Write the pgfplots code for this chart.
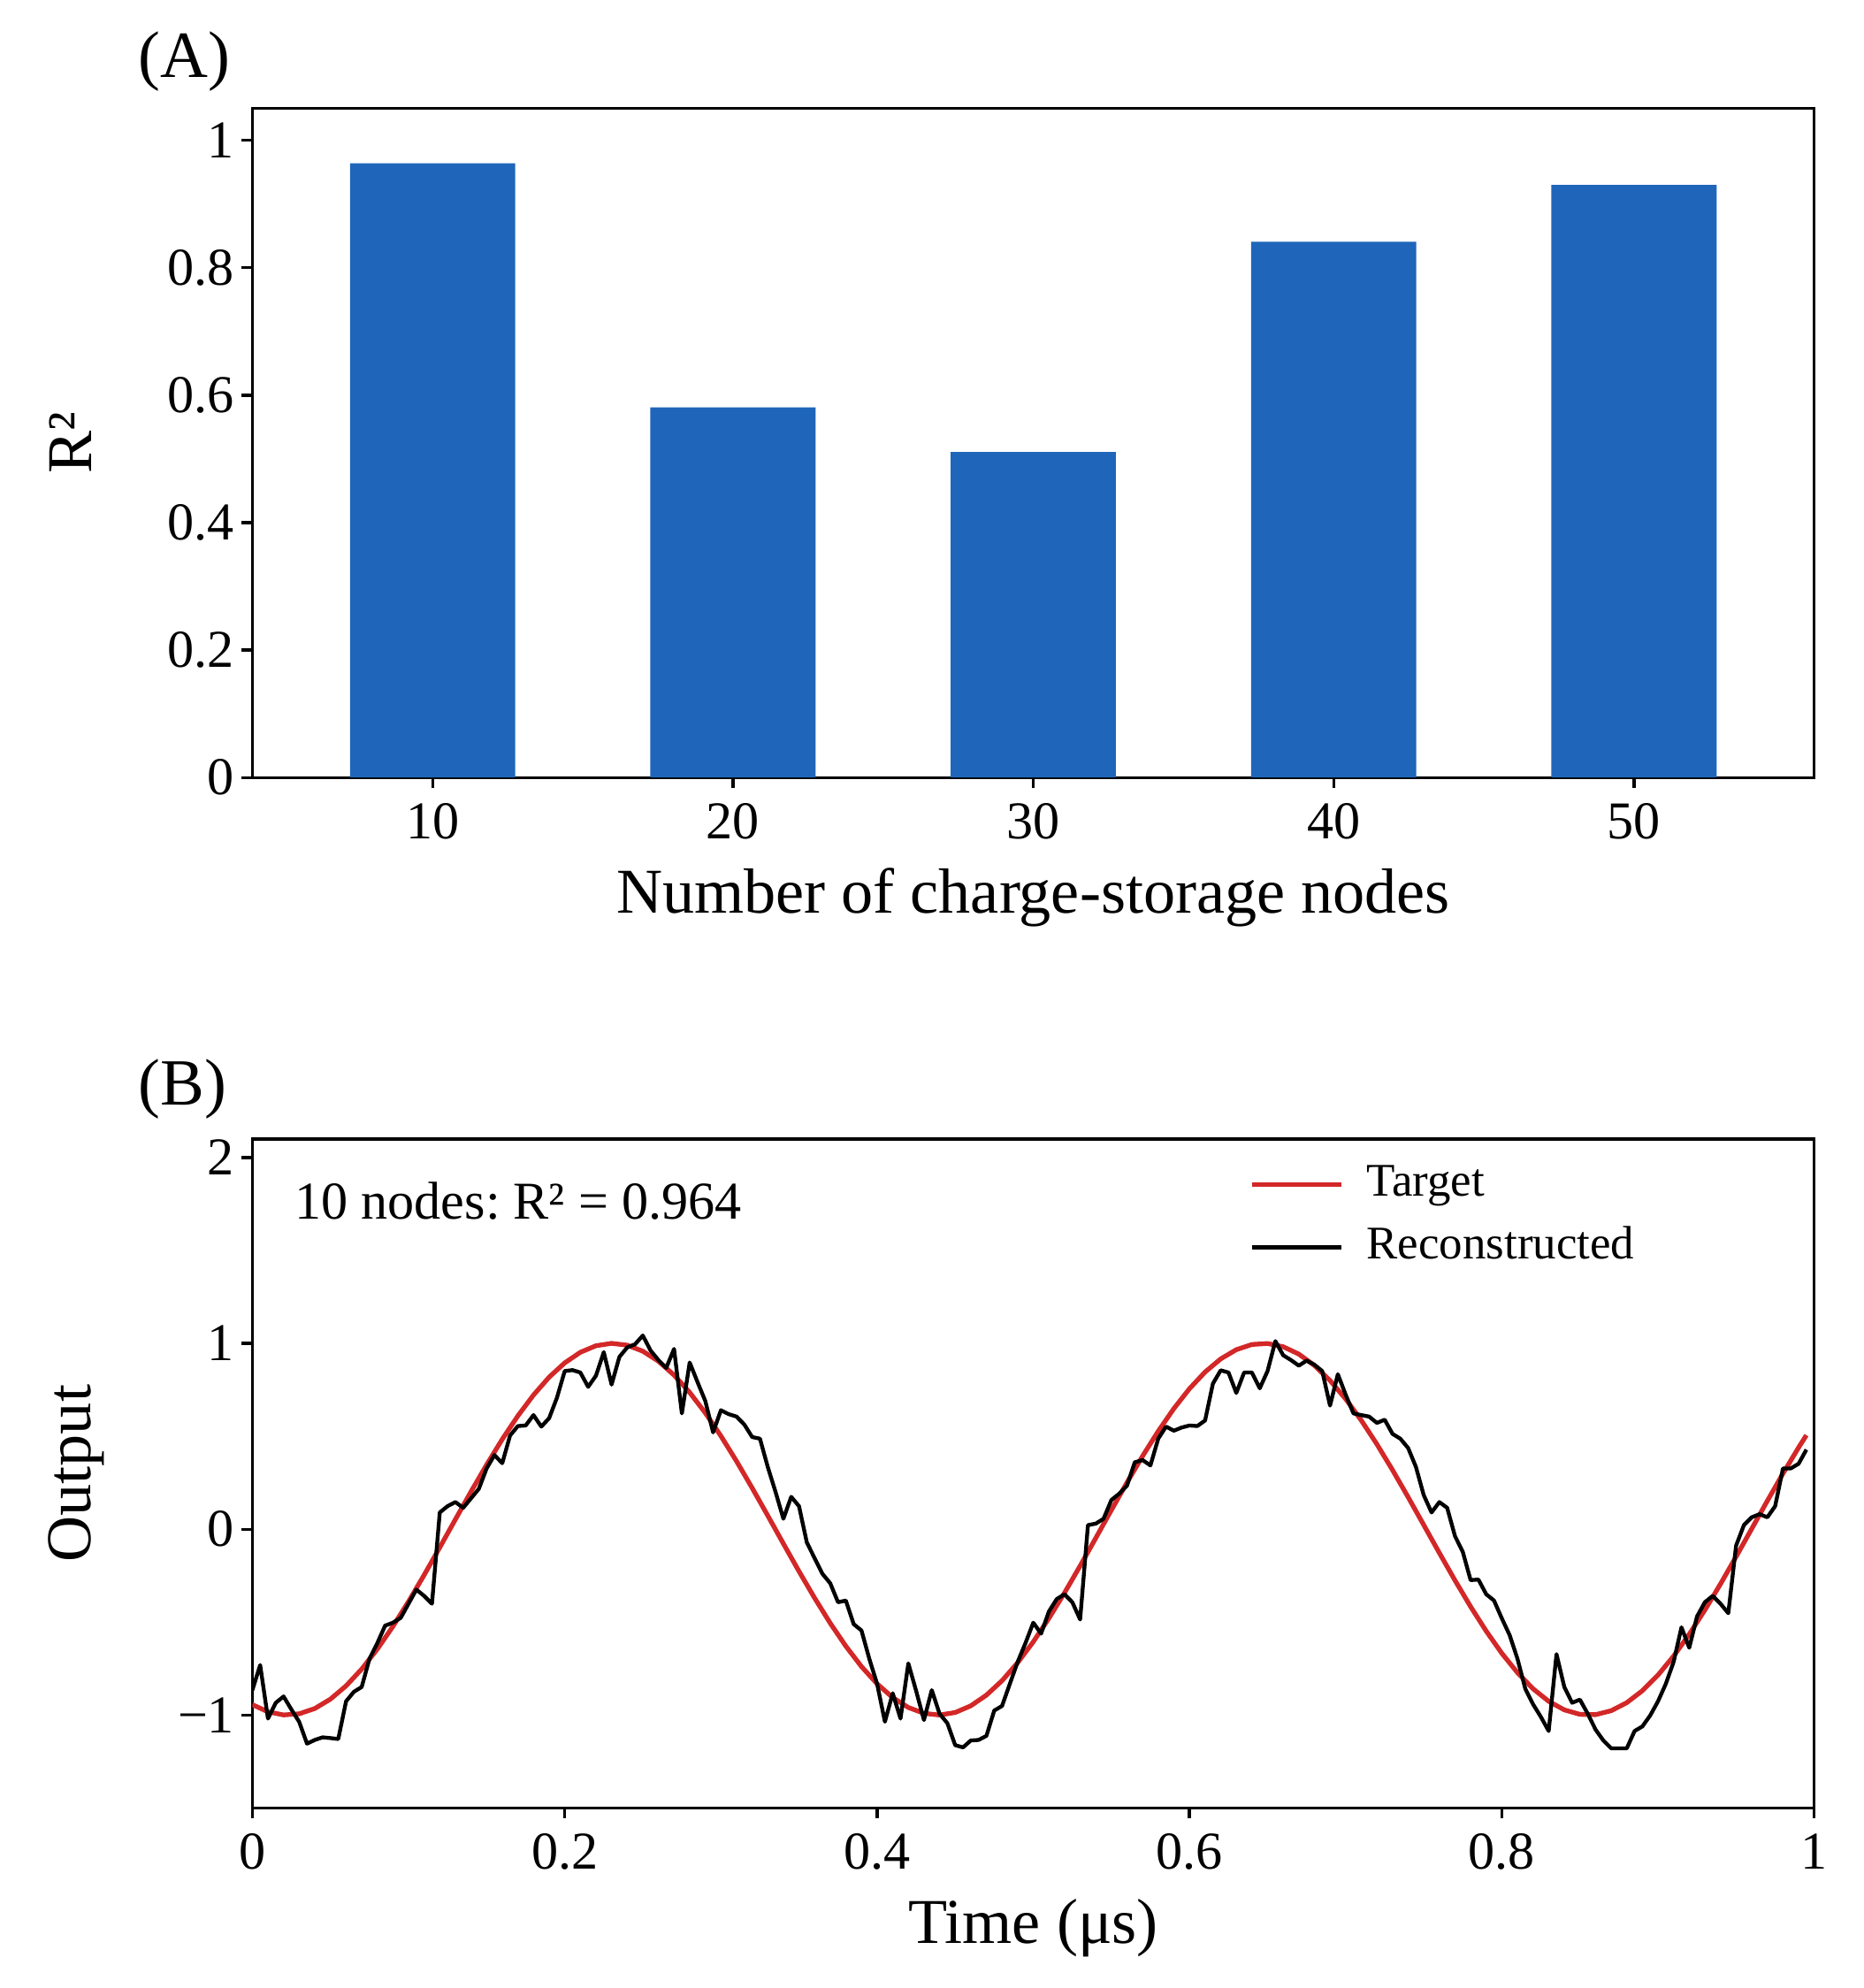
\documentclass[border=0pt]{standalone}
\usepackage{fontspec}
\setmainfont{Liberation Serif}
\usepackage{pgfplots}
\pgfplotsset{compat=1.18}
\definecolor{barblue}{RGB}{31,102,186}
\definecolor{tred}{RGB}{211,39,40}
\frenchspacing
\begin{document}
\begin{tikzpicture}
\pgfplotsset{
  panel/.style={
    scale only axis, width=367.0pt, height=157.2pt,
    axis line style={line width=0.7pt},
    tick align=outside, tick pos=left,
    major tick length=2.5pt,
    every tick/.style={black, line width=0.7pt},
    tick label style={font=\fontsize{12.5}{14}\selectfont},
    yticklabel style={xshift=1.8pt},
    /pgf/number format/assume math mode=true,
    every axis x label/.style={at={(axis description cs:0.5,-0.179)}, anchor=center, font=\fontsize{15}{18}\selectfont},
  }
}
% ---------------- (A) ----------------
\begin{axis}[panel, name=top, at={(0pt,242.1pt)}, anchor=south west,
  xmin=4, xmax=56, ymin=0, ymax=1.05,
  xtick={10,20,30,40,50}, xticklabels={10,20,30,40,50},
  ytick={0,0.2,0.4,0.6,0.8,1}, yticklabels={0,0.2,0.4,0.6,0.8,1},
  every axis y label/.style={at={(axis description cs:-0.1166,0.5)}, anchor=center, rotate=90, font=\fontsize{15}{18}\selectfont},
  xlabel={Number of charge-storage nodes}, ylabel={R²}]
\addplot[ybar, fill=barblue, draw=none, bar width=5.5] coordinates {
(10,0.964) (20,0.581) (30,0.511) (40,0.841) (50,0.930)};
\end{axis}
% ---------------- (B) ----------------
\begin{axis}[panel, name=bot, at={(0pt,0pt)}, anchor=south west,
  xmin=0, xmax=1, ymin=-1.5, ymax=2.1,
  xtick={0,0.2,0.4,0.6,0.8,1}, xticklabels={0,0.2,0.4,0.6,0.8,1},
  ytick={-1,0,1,2}, yticklabels={−1,0,1,2},
  every axis y label/.style={at={(axis description cs:-0.1125,0.5)}, anchor=center, rotate=90, font=\fontsize{15}{18}\selectfont},
  xlabel={Time (μs)}, ylabel={Output},
  legend style={draw=none, fill=none, at={(axis description cs:0.63,0.989)}, anchor=north west,
    font=\fontsize{11}{13}\selectfont, row sep=1.3pt,
    nodes={inner ysep=1.5pt, text height=8pt, text depth=2.5pt}},
  legend cell align=left,
  legend image code/.code={\draw[#1] (0pt,0pt) -- (21pt,0pt); \path (24.3pt,0pt);}]
\addplot[tred, line width=1.1pt, line join=round] table {
t y
0 -0.9438
0.01 -0.9827
0.02 -0.9994
0.03 -0.9933
0.04 -0.9648
0.05 -0.9143
0.06 -0.8430
0.07 -0.7528
0.08 -0.6452
0.09 -0.5231
0.10 -0.3891
0.11 -0.2463
0.12 -0.0979
0.13 0.0527
0.14 0.2021
0.15 0.3469
0.16 0.4839
0.17 0.6098
0.18 0.7219
0.19 0.8180
0.20 0.8949
0.21 0.9518
0.22 0.9871
0.23 1.0000
0.24 0.9901
0.25 0.9578
0.26 0.9038
0.27 0.8291
0.28 0.7358
0.29 0.6257
0.30 0.5015
0.31 0.3659
0.32 0.2219
0.33 0.0729
0.34 -0.0778
0.35 -0.2267
0.36 -0.3704
0.37 -0.5057
0.38 -0.6295
0.39 -0.7391
0.40 -0.8320
0.41 -0.9059
0.42 -0.9592
0.43 -0.9908
0.44 -0.9999
0.45 -0.9863
0.46 -0.9503
0.47 -0.8928
0.48 -0.8151
0.49 -0.7185
0.50 -0.6060
0.51 -0.4796
0.52 -0.3424
0.53 -0.1973
0.54 -0.0478
0.55 0.1028
0.56 0.2511
0.57 0.3936
0.58 0.5272
0.59 0.6489
0.60 0.7559
0.61 0.8457
0.62 0.9163
0.63 0.9660
0.64 0.9939
0.65 0.9992
0.66 0.9818
0.67 0.9422
0.68 0.8811
0.69 0.8000
0.70 0.7009
0.71 0.5858
0.72 0.4574
0.73 0.3186
0.74 0.1726
0.75 0.0227
0.76 -0.1278
0.77 -0.2753
0.78 -0.4166
0.79 -0.5484
0.80 -0.6678
0.81 -0.7719
0.82 -0.8588
0.83 -0.9260
0.84 -0.9722
0.85 -0.9963
0.86 -0.9979
0.87 -0.9767
0.88 -0.9335
0.89 -0.8690
0.90 -0.7848
0.91 -0.6828
0.92 -0.5653
0.93 -0.4349
0.94 -0.2947
0.95 -0.1478
0.96 0.0024
0.97 0.1526
0.98 0.2994
0.99 0.4393
0.995 0.5057
};
\addlegendentry{Target}
\addplot[black, line width=0.9pt, line join=round] table {
t y
0.000 -0.866
0.005 -0.731
0.010 -1.019
0.015 -0.934
0.020 -0.900
0.025 -0.970
0.030 -1.037
0.035 -1.154
0.040 -1.134
0.045 -1.120
0.050 -1.124
0.055 -1.129
0.060 -0.926
0.065 -0.875
0.070 -0.849
0.075 -0.697
0.080 -0.613
0.085 -0.519
0.090 -0.503
0.095 -0.477
0.100 -0.401
0.105 -0.325
0.110 -0.359
0.115 -0.401
0.120 0.090
0.125 0.124
0.130 0.146
0.135 0.115
0.140 0.166
0.145 0.217
0.150 0.327
0.155 0.399
0.160 0.355
0.165 0.504
0.170 0.555
0.175 0.558
0.180 0.614
0.185 0.552
0.190 0.597
0.195 0.707
0.200 0.851
0.205 0.856
0.210 0.843
0.215 0.766
0.220 0.826
0.225 0.953
0.230 0.778
0.235 0.927
0.240 0.978
0.245 0.995
0.250 1.042
0.255 0.961
0.260 0.910
0.265 0.868
0.270 0.970
0.275 0.623
0.280 0.897
0.285 0.792
0.290 0.690
0.295 0.521
0.300 0.640
0.305 0.619
0.310 0.606
0.315 0.563
0.320 0.496
0.325 0.487
0.330 0.335
0.335 0.200
0.340 0.056
0.345 0.174
0.350 0.124
0.355 -0.071
0.360 -0.156
0.365 -0.240
0.370 -0.291
0.375 -0.393
0.380 -0.384
0.385 -0.511
0.390 -0.545
0.395 -0.697
0.400 -0.832
0.405 -1.036
0.410 -0.883
0.415 -1.019
0.420 -0.722
0.425 -0.870
0.430 -1.027
0.435 -0.866
0.440 -0.993
0.445 -1.044
0.450 -1.162
0.455 -1.174
0.460 -1.137
0.465 -1.134
0.470 -1.112
0.475 -0.976
0.480 -0.951
0.485 -0.832
0.490 -0.714
0.495 -0.613
0.500 -0.503
0.505 -0.562
0.510 -0.443
0.515 -0.376
0.520 -0.350
0.525 -0.393
0.530 -0.486
0.535 0.022
0.540 0.030
0.545 0.056
0.550 0.157
0.555 0.191
0.560 0.234
0.565 0.360
0.570 0.372
0.575 0.343
0.580 0.487
0.585 0.552
0.590 0.530
0.595 0.547
0.600 0.558
0.605 0.555
0.610 0.585
0.615 0.783
0.620 0.855
0.625 0.843
0.630 0.733
0.635 0.843
0.640 0.843
0.645 0.758
0.650 0.851
0.655 1.012
0.660 0.936
0.665 0.910
0.670 0.880
0.675 0.907
0.680 0.885
0.685 0.851
0.690 0.665
0.695 0.834
0.700 0.724
0.705 0.623
0.710 0.614
0.715 0.606
0.720 0.572
0.725 0.589
0.730 0.513
0.735 0.487
0.740 0.437
0.745 0.335
0.750 0.183
0.755 0.090
0.760 0.146
0.765 0.115
0.770 -0.037
0.775 -0.122
0.780 -0.274
0.785 -0.271
0.790 -0.350
0.795 -0.384
0.800 -0.480
0.805 -0.570
0.810 -0.697
0.815 -0.858
0.820 -0.942
0.825 -1.010
0.830 -1.086
0.835 -0.672
0.840 -0.849
0.845 -0.934
0.850 -0.917
0.855 -0.993
0.860 -1.078
0.865 -1.137
0.870 -1.179
0.875 -1.179
0.880 -1.179
0.885 -1.086
0.890 -1.061
0.895 -1.002
0.900 -0.926
0.905 -0.832
0.910 -0.714
0.915 -0.528
0.920 -0.638
0.925 -0.469
0.930 -0.393
0.935 -0.359
0.940 -0.401
0.945 -0.452
0.950 -0.088
0.955 0.022
0.960 0.064
0.965 0.081
0.970 0.064
0.975 0.124
0.980 0.327
0.985 0.327
0.990 0.352
0.995 0.428
};
\addlegendentry{Reconstructed}
\node[anchor=west, inner sep=0pt, font=\fontsize{12.5}{14}\selectfont] at (axis description cs:0.0267,0.907) {10 nodes: R² = 0.964};
\end{axis}
\node[anchor=west, inner sep=0pt, font=\fontsize{15.5}{18}\selectfont] at ([xshift=-27pt,yshift=11.1pt]top.north west) {(A)};
\node[anchor=west, inner sep=0pt, font=\fontsize{15.5}{18}\selectfont] at ([xshift=-27pt,yshift=11.7pt]bot.north west) {(B)};
\pgfresetboundingbox
\useasboundingbox (-59.3pt,-42.3pt) rectangle (378.7pt,424.8pt);
\end{tikzpicture}
\end{document}
